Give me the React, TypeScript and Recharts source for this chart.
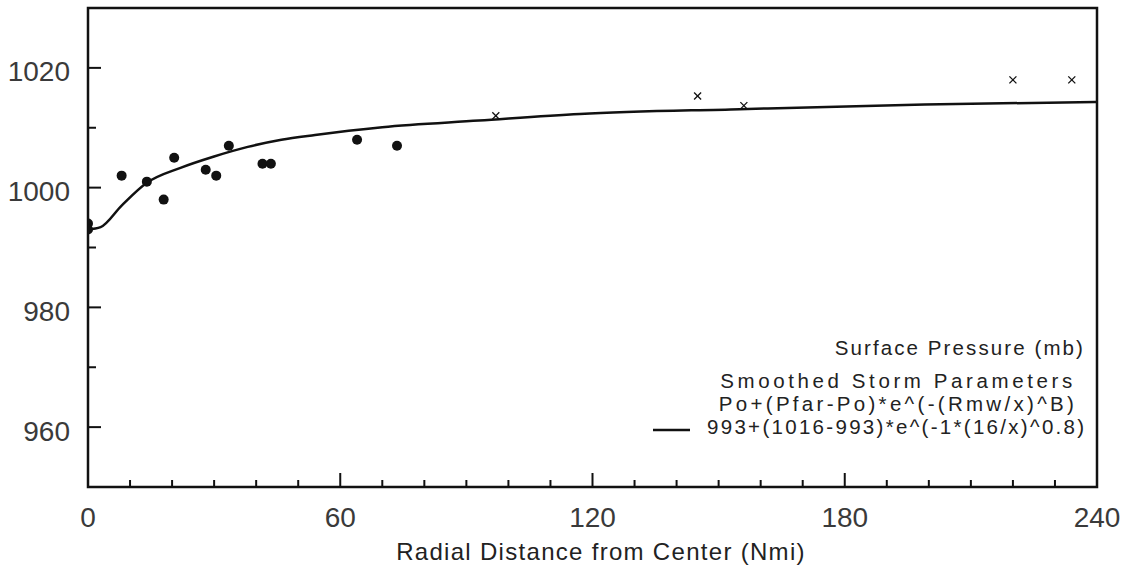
import React from "react";
import {
  ComposedChart,
  Line,
  Scatter,
  XAxis,
  YAxis,
  ReferenceArea,
} from "recharts";

// observed surface pressure (filled dots)
const obsDist = [0, 0, 8, 14, 18, 20.5, 28, 30.5, 33.5, 41.5, 43.5, 64, 73.5];
const obsPres = [994, 993, 1002, 1001, 998, 1005, 1003, 1002, 1007, 1004, 1004, 1008, 1007];

// far field readings (crosses)
const farDist = [97, 145, 156, 220, 234];
const farPres = [1012, 1015.3, 1013.7, 1018, 1018];

// smoothed storm parameter curve
const fitDist = [0, 3, 8, 14, 22, 30, 38, 46, 54, 62, 70, 93, 117, 155, 199, 240];
const fitPres = [993, 993.4, 997, 1000.8, 1003.3, 1005.2, 1006.8, 1008, 1008.8, 1009.5, 1010.1, 1011.2, 1012.3, 1013.1, 1013.9, 1014.3];

const xTicks = [0, 10, 20, 30, 40, 50, 60, 70, 80, 90, 100, 110, 120, 130, 140, 150, 160, 170, 180, 190, 200, 210, 220, 230, 240];
const xLabels = [0, 60, 120, 180, 240];
const yTicks = [960, 970, 980, 990, 1000, 1010, 1020];
const yLabels = [960, 980, 1000, 1020];

const obsData = obsDist.map((d, i) => ({ d, p: obsPres[i] }));
const farData = farDist.map((d, i) => ({ d, p: farPres[i] }));
const fitData = fitDist.map((d, i) => ({ d, p: fitPres[i] }));

const ink = "#111";
const font = "'Liberation Sans', Arial, sans-serif";

const XTick = (props: any) => {
  const { x, y, payload } = props;
  const major = xLabels.includes(payload.value);
  return (
    <g>
      <line x1={x} x2={x} y1={y} y2={y - (major ? 14 : 7)} stroke={ink} strokeWidth={2} />
      {major && (
        <text x={x} y={y + 30} textAnchor="middle" dominantBaseline="central"
          fontSize={28} fontFamily={font} fill="#3a3a3a">
          {payload.value}
        </text>
      )}
    </g>
  );
};

const YTick = (props: any) => {
  const { x, y, payload } = props;
  const major = yLabels.includes(payload.value);
  return (
    <g>
      <line x1={x} x2={x + (major ? 13 : 8)} y1={y} y2={y} stroke={ink} strokeWidth={2} />
      {major && (
        <text x={x - 18} y={y + 4} textAnchor="end" dominantBaseline="central"
          fontSize={28} fontFamily={font} fill="#3a3a3a">
          {payload.value}
        </text>
      )}
    </g>
  );
};

const Dot = (props: any) => <circle cx={props.cx} cy={props.cy} r={5} fill={ink} />;

const Cross = (props: any) => {
  const { cx, cy } = props;
  const s = 3.5;
  return (
    <g stroke={ink} strokeWidth={1.3}>
      <line x1={cx - s} y1={cy - s} x2={cx + s} y2={cy + s} />
      <line x1={cx - s} y1={cy + s} x2={cx + s} y2={cy - s} />
    </g>
  );
};

const legendText: React.CSSProperties = {
  position: "absolute",
  fontFamily: font,
  fontSize: 20.5,
  color: "#222",
  whiteSpace: "nowrap",
  lineHeight: "23px",
  height: 23,
};

export default function App() {
  return (
    <div style={{ position: "absolute", left: 0, top: 0, width: 1126, height: 565, background: "#fff" }}>
      <ComposedChart
        width={1126}
        height={565}
        margin={{ top: 8, right: 29, left: 0, bottom: 0 }}
      >
        <XAxis
          dataKey="d"
          type="number"
          domain={[0, 240]}
          ticks={xTicks}
          interval={0}
          allowDataOverflow
          axisLine={false}
          tickLine={false}
          tickSize={0}
          tickMargin={0}
          tick={<XTick />}
          height={78}
        />
        <YAxis
          type="number"
          domain={[950, 1030]}
          ticks={yTicks}
          interval={0}
          allowDataOverflow
          axisLine={false}
          tickLine={false}
          tickSize={0}
          tickMargin={0}
          tick={<YTick />}
          width={88}
        />
        <ReferenceArea x1={0} x2={240} y1={950} y2={1030} fill="none" fillOpacity={0} stroke={ink} strokeWidth={2.5} />
        <Line
          data={fitData}
          dataKey="p"
          type="monotone"
          stroke={ink}
          strokeWidth={2.5}
          dot={false}
          isAnimationActive={false}
        />
        <Scatter data={obsData} dataKey="p" shape={<Dot />} isAnimationActive={false} />
        <Scatter data={farData} dataKey="p" shape={<Cross />} isAnimationActive={false} />
      </ComposedChart>

      <div style={{ ...legendText, right: 41, top: 336, letterSpacing: 2.1 }}>Surface Pressure (mb)</div>
      <div style={{ ...legendText, left: 700, width: 396, top: 369, textAlign: "center", letterSpacing: 3.6 }}>
        Smoothed Storm Parameters
      </div>
      <div style={{ ...legendText, left: 700, width: 396, top: 392, textAlign: "center", letterSpacing: 3.3 }}>
        Po+(Pfar-Po)*e^(-(Rmw/x)^B)
      </div>
      <svg style={{ position: "absolute", left: 650, top: 424, width: 45, height: 12 }}>
        <line x1={3} x2={40} y1={6} y2={6} stroke={ink} strokeWidth={2.5} />
      </svg>
      <div style={{ ...legendText, left: 707, top: 415, letterSpacing: 2.3 }}>993+(1016-993)*e^(-1*(16/x)^0.8)</div>

      <div style={{ position: "absolute", left: 0, width: 1202, top: 538, textAlign: "center", fontFamily: font, fontSize: 24, letterSpacing: 1.3, color: "#222" }}>
        Radial Distance from Center (Nmi)
      </div>
    </div>
  );
}
